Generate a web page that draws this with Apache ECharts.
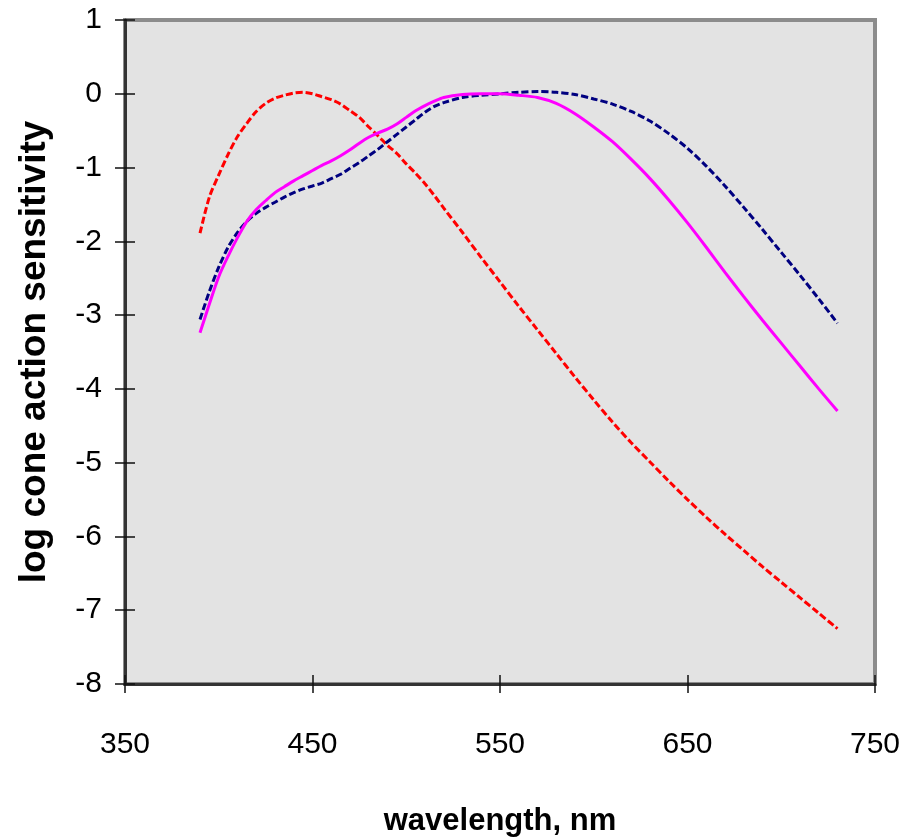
<!DOCTYPE html>
<html>
<head>
<meta charset="utf-8">
<script src="https://cdn.jsdelivr.net/npm/echarts@6/dist/echarts.min.js"></script>
<style>
  html, body { margin: 0; padding: 0; background: #fff; }
  #chart_container { width: 903px; height: 839px; }
</style>
</head>
<body>
<div id="chart_container"></div>
<script>
// cone action spectra

// wavelengths, nm
var wavelengths = [
  390, 395, 400, 405, 410, 415, 420, 425, 430, 435, 440, 445, 450, 455,
  460, 465, 470, 475, 480, 485, 490, 495, 500, 505, 510, 515, 520,
  530, 540, 550, 560, 570, 580, 590, 600, 610, 620, 630, 640, 650,
  660, 670, 680, 690, 700, 710, 720, 730
];

// S cone (red, dashed)
var sCone = [
  -1.89, -1.40, -1.10, -0.82, -0.58, -0.40, -0.24, -0.13, -0.06, -0.02, 0.01, 0.02, 0.00, -0.04,
  -0.08, -0.14, -0.23, -0.32, -0.45, -0.57, -0.70, -0.81, -0.95, -1.08, -1.22, -1.38, -1.55,
  -1.88, -2.22, -2.55, -2.88, -3.20, -3.52, -3.84, -4.15, -4.45, -4.73, -4.99, -5.25, -5.50,
  -5.74, -5.97, -6.19, -6.41, -6.62, -6.83, -7.04, -7.25
];

// L cone (navy, dashed)
var lCone = [
  -3.06, -2.68, -2.35, -2.08, -1.88, -1.73, -1.62, -1.54, -1.47, -1.40, -1.34, -1.29, -1.25, -1.21,
  -1.15, -1.09, -1.01, -0.93, -0.84, -0.75, -0.65, -0.55, -0.45, -0.35, -0.25, -0.17, -0.12,
  -0.05, -0.02, 0.00, 0.02, 0.03, 0.02, -0.01, -0.07, -0.14, -0.24, -0.37, -0.54, -0.74,
  -0.98, -1.25, -1.54, -1.84, -2.15, -2.46, -2.78, -3.11
];

// M cone (magenta, solid)
var mCone = [
  -3.24, -2.85, -2.48, -2.20, -1.95, -1.73, -1.57, -1.45, -1.34, -1.26, -1.18, -1.11, -1.04, -0.97,
  -0.91, -0.84, -0.76, -0.67, -0.59, -0.53, -0.48, -0.41, -0.32, -0.23, -0.16, -0.10, -0.05,
  -0.01, 0.00, 0.00, -0.02, -0.05, -0.13, -0.27, -0.45, -0.65, -0.89, -1.15, -1.44, -1.75,
  -2.08, -2.42, -2.75, -3.07, -3.38, -3.69, -4.00, -4.30
];

function pairs(ys) {
    return wavelengths.map(function (x, i) { return [x, ys[i]]; });
}

var fontFam = "'Liberation Sans', Arial, sans-serif";

var chartDom = document.getElementById('chart_container');
var myChart = echarts.init(chartDom, null, { renderer: 'canvas' });

var xCommon = {
    type: 'value',
    min: 350,
    max: 750,
    interval: 100,
    splitLine: { show: false },
};
var yCommon = {
    type: 'value',
    min: -8,
    max: 1,
    interval: 1,
    splitLine: { show: false },
};

var opt = {
    animation: false,
    grid: {
        left: 125,
        top: 20,
        width: 750,
        height: 664,
        containLabel: false,
        outerBoundsMode: 'none',
        show: true,
        backgroundColor: '#e3e3e3',
        borderColor: '#8c8c8c',
        borderWidth: 4,
    },
    xAxis: [
        Object.assign({}, xCommon, {
            position: 'bottom',
            name: 'wavelength, nm',
            nameLocation: 'middle',
            nameGap: 122,
            nameTextStyle: { fontFamily: fontFam, fontSize: 31, fontWeight: 'bold', color: '#000' },
            axisLine: { onZero: false, lineStyle: { color: '#333', width: 3 } },
            axisTick: { length: 9, lineStyle: { color: '#111', width: 1.5 } },
            axisLabel: { margin: 46, fontFamily: fontFam, fontSize: 30, color: '#000' },
        }),
        // second axis only for the inner half of the crossing ticks
        Object.assign({}, xCommon, {
            position: 'bottom',
            axisLine: { show: false, onZero: false },
            axisTick: { inside: true, length: 9, lineStyle: { color: '#111', width: 1.5 } },
            axisLabel: { show: false },
        }),
    ],
    yAxis: [
        Object.assign({}, yCommon, {
            position: 'left',
            name: 'log cone action sensitivity',
            nameLocation: 'middle',
            nameGap: 72,
            nameTextStyle: { fontFamily: fontFam, fontSize: 37, fontWeight: 'bold', color: '#000' },
            axisLine: { onZero: false, lineStyle: { color: '#333', width: 3 } },
            axisTick: { length: 10, lineStyle: { color: '#111', width: 1.5 } },
            axisLabel: { margin: 23, fontFamily: fontFam, fontSize: 30, color: '#000' },
        }),
        Object.assign({}, yCommon, {
            position: 'left',
            axisLine: { show: false, onZero: false },
            axisTick: { inside: true, length: 10, lineStyle: { color: '#111', width: 1.5 } },
            axisLabel: { show: false },
        }),
    ],
    series: [
        {
            name: 'S',
            type: 'line',
            xAxisIndex: 0,
            yAxisIndex: 0,
            data: pairs(sCone),
            smooth: 0.3,
            showSymbol: false,
            lineStyle: { color: '#ff0000', width: 3, type: [7, 3] },
        },
        {
            name: 'L',
            type: 'line',
            xAxisIndex: 0,
            yAxisIndex: 0,
            data: pairs(lCone),
            smooth: 0.3,
            showSymbol: false,
            lineStyle: { color: '#000080', width: 3, type: [7, 3] },
        },
        {
            name: 'M',
            type: 'line',
            xAxisIndex: 0,
            yAxisIndex: 0,
            data: pairs(mCone),
            smooth: 0.3,
            showSymbol: false,
            lineStyle: { color: '#ff00ff', width: 3 },
        },
    ],
};

myChart.setOption(opt);
</script>
</body>
</html>
